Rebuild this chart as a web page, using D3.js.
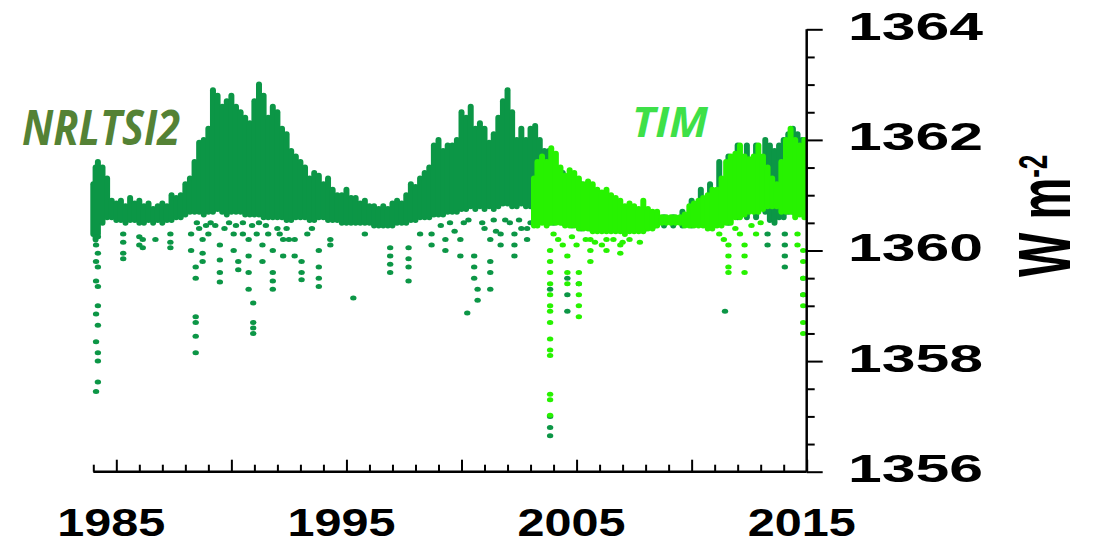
<!DOCTYPE html>
<html>
<head>
<meta charset="utf-8">
<script src="https://cdn.jsdelivr.net/npm/d3@7"></script>
<style>
  body { margin: 0; background: #fff; }
  svg { display: block; }
</style>
</head>
<body>
<svg id="chart" width="1094" height="545"></svg>
<script>
// NRLTSI2 daily spread: year, top of cloud, bottom of cloud
const nrlYear = [1984.0,1984.1,1984.2,1984.4,1984.6,1984.8,1985.0,1985.2,1985.4,1985.6,1985.8,1986.0,1986.2,1986.4,1986.6,1986.8,1987.0,1987.2,1987.4,1987.6,1987.8,1988.0,1988.2,1988.4,1988.6,1988.8,1989.0,1989.2,1989.4,1989.6,1989.8,1990.0,1990.2,1990.4,1990.6,1990.8,1991.0,1991.2,1991.4,1991.6,1991.8,1992.0,1992.2,1992.4,1992.6,1992.8,1993.0,1993.2,1993.4,1993.6,1993.8,1994.0,1994.2,1994.4,1994.6,1994.8,1995.0,1995.2,1995.4,1995.6,1995.8,1996.0,1996.2,1996.4,1996.6,1996.8,1997.0,1997.2,1997.4,1997.6,1997.8,1998.0,1998.2,1998.4,1998.6,1998.8,1999.0,1999.2,1999.4,1999.6,1999.8,2000.0,2000.2,2000.4,2000.6,2000.8,2001.0,2001.2,2001.4,2001.6,2001.8,2002.0,2002.2,2002.4,2002.6,2002.8,2003.0,2003.2,2003.4,2003.6,2003.8,2004.0,2004.4,2004.8,2005.2,2005.6,2006.0,2006.4,2006.8,2007.2,2007.6,2008.0,2008.4,2008.8,2009.2,2009.6,2010.0,2010.4,2010.8,2011.2,2011.6,2012.0,2012.4,2012.8,2013.2,2013.4,2013.6,2013.8,2014.0,2014.2,2014.4,2014.6,2014.8];
const nrlHigh = [1361.2,1361.5,1361.6,1361.5,1361.3,1360.9,1360.85,1360.9,1360.8,1360.95,1360.85,1360.9,1360.8,1360.85,1360.75,1360.8,1360.85,1360.8,1361.0,1360.95,1361.0,1361.2,1361.3,1361.6,1361.95,1362.0,1362.2,1362.9,1362.8,1362.6,1362.7,1362.8,1362.6,1362.5,1362.4,1362.3,1362.7,1363.0,1362.8,1362.4,1362.6,1362.5,1362.2,1362.1,1361.8,1361.7,1361.6,1361.5,1361.3,1361.4,1361.35,1361.2,1361.3,1361.1,1361.0,1361.0,1361.1,1360.95,1360.95,1360.85,1360.9,1360.8,1360.8,1360.75,1360.8,1360.75,1360.85,1360.9,1360.85,1361.0,1361.2,1361.15,1361.3,1361.4,1361.5,1361.9,1362.0,1361.8,1361.9,1361.9,1362.0,1362.5,1362.4,1362.6,1362.2,1362.3,1362.2,1361.95,1362.1,1362.4,1362.7,1362.9,1362.5,1362.0,1362.2,1362.0,1362.2,1362.25,1362.0,1361.8,1361.8,1361.6,1361.4,1361.3,1361.2,1361.1,1361.0,1360.9,1360.85,1360.75,1360.7,1360.65,1360.6,1360.6,1360.6,1360.7,1360.9,1361.1,1361.2,1361.6,1361.7,1361.9,1361.9,1361.9,1362.0,1361.9,1361.8,1361.9,1362.0,1362.1,1362.2,1362.1,1362.0];
const nrlLow = [1360.3,1360.2,1360.3,1360.5,1360.6,1360.6,1360.55,1360.55,1360.5,1360.55,1360.55,1360.5,1360.5,1360.55,1360.5,1360.55,1360.5,1360.55,1360.55,1360.6,1360.6,1360.65,1360.7,1360.7,
  1360.7,1360.65,1360.7,1360.7,1360.75,1360.7,1360.65,1360.7,1360.7,1360.7,1360.65,1360.65,1360.65,1360.65,1360.6,1360.6,1360.6,1360.6,1360.6,1360.55,1360.55,
  1360.6,1360.6,1360.6,1360.55,1360.55,1360.6,1360.6,1360.55,1360.55,1360.55,1360.5,1360.5,1360.5,1360.5,1360.5,1360.5,1360.5,1360.45,1360.45,1360.45,1360.45,1360.45,1360.5,1360.5,1360.5,1360.55,1360.55,1360.6,1360.6,1360.6,1360.65,
  1360.65,1360.65,1360.7,1360.7,1360.7,1360.75,1360.75,1360.8,1360.75,1360.8,1360.75,1360.8,1360.75,1360.8,1360.85,1360.85,1360.8,1360.8,1360.85,1360.8,1360.8,
  1360.8,1360.7,1360.6,1360.5,1360.5,1360.5,1360.45,1360.4,1360.4,1360.4,1360.4,1360.4,1360.4,1360.4,1360.4,1360.45,1360.45,1360.45,1360.45,1360.45,1360.5,1360.5,1360.5,1360.5,1360.6,1360.6,1360.6,1360.7,1360.55,1360.5,1360.6,1360.6,1360.7,1360.7,1360.7,1360.7];

// TIM daily spread
const timYear = [2003.15,2003.3,2003.5,2003.7,2003.9,2004.1,2004.3,2004.5,2004.7,2004.9,2005.1,2005.3,2005.5,2005.7,2005.9,2006.1,2006.3,2006.5,2006.7,2006.9,2007.1,2007.3,2007.5,2007.7,2007.9,2008.1,2008.3,2008.5,2008.7,2008.9,2009.1,2009.3,2009.5,2009.7,2009.9,2010.1,2010.3,2010.5,2010.7,2010.9,2011.1,2011.3,2011.5,2011.7,2011.9,2012.1,2012.3,2012.5,2012.7,2012.9,2013.1,2013.3,2013.5,2013.7,2013.9,2014.1,2014.3,2014.5,2014.7,2014.9];
const timHigh = [1361.3,1361.6,1361.7,1361.6,1361.85,1361.75,1361.5,1361.35,1361.45,1361.4,1361.3,1361.2,1361.25,1361.2,1361.1,1361.05,1361.1,1361.0,1360.95,1360.9,1360.8,1360.85,1360.8,1360.75,1360.9,1360.75,1360.7,1360.7,1360.6,1360.6,1360.6,1360.6,1360.6,1360.65,1360.8,1360.85,1360.9,1360.95,1361.0,1361.1,1361.1,1361.3,1361.6,1361.7,1361.75,1361.9,1361.7,1361.65,1361.7,1361.9,1361.7,1361.5,1361.3,1361.2,1361.6,1362.0,1362.2,1362.0,1361.9,1362.0];
const timLow = [1360.45,1360.45,1360.5,1360.45,1360.5,1360.5,1360.5,1360.45,1360.45,1360.45,1360.4,1360.4,1360.4,1360.35,1360.35,1360.35,1360.35,1360.35,1360.35,1360.35,1360.3,1360.35,1360.35,1360.35,1360.35,1360.4,1360.4,1360.45,1360.5,1360.5,1360.5,1360.5,1360.5,1360.45,1360.45,1360.45,1360.45,1360.45,1360.4,1360.4,1360.45,1360.45,1360.5,1360.5,1360.6,1360.6,1360.65,1360.7,1360.7,1360.7,1360.75,1360.8,1360.8,1360.8,1360.7,1360.7,1360.7,1360.6,1360.65,1360.6];

// single days that fall below the main cloud: [year, W m-2]
const nrlDips = [
  [1984.12,1360.1],[1984.12,1359.8],[1984.12,1359.45],[1984.12,1358.85],[1984.12,1358.35],[1984.12,1357.45],
  [1984.2,1360.25],[1984.2,1359.95],[1984.2,1359.7],[1984.2,1359.35],[1984.2,1359.0],[1984.2,1358.65],[1984.2,1358.15],[1984.2,1358.0],[1984.2,1357.62],
  [1985.3,1360.3],[1985.3,1360.15],[1985.3,1359.95],[1985.3,1359.85],
  [1986.0,1360.25],[1986.0,1360.1],[1986.15,1360.05],[1986.15,1360.2],[1986.7,1360.2],
  [1987.35,1360.3],[1987.35,1360.15],[1987.35,1360.05],
  [1988.25,1360.3],[1988.25,1360.0],
  [1988.45,1359.7],[1988.45,1359.5],[1988.45,1358.8],[1988.45,1358.7],[1988.45,1358.45],[1988.45,1358.15],
  [1988.75,1360.2],[1988.75,1359.95],[1988.75,1359.8],
  [1988.5,1360.5],[1988.6,1360.4],[1988.9,1360.45],[1989.0,1360.3],[1989.1,1360.5],[1989.3,1360.45],
  [1989.7,1360.4],[1989.9,1360.5],[1990.2,1360.45],[1990.5,1360.5],[1990.5,1360.3],[1990.9,1360.45],
  [1991.1,1360.3],[1991.2,1360.5],[1991.5,1360.45],[1991.6,1360.3],[1992.0,1360.4],[1992.1,1360.3],
  [1992.4,1360.4],[1992.5,1360.2],[1993.3,1360.3],[1993.5,1360.4],
  [1989.5,1360.1],[1989.5,1359.83],[1989.5,1359.6],[1989.5,1359.43],
  [1990.1,1360.3],[1990.1,1360.0],[1990.3,1359.8],[1990.3,1359.65],
  [1990.75,1360.2],[1990.75,1359.9],[1990.75,1359.6],[1990.75,1359.3],
  [1990.95,1359.05],[1990.95,1358.7],[1990.95,1358.6],[1990.95,1358.5],
  [1991.35,1360.1],[1991.35,1359.8],
  [1991.8,1360.0],[1991.8,1359.6],[1991.8,1359.45],[1991.8,1359.3],
  [1992.25,1360.2],[1992.25,1359.9],[1992.75,1360.2],[1992.75,1359.9],
  [1993.05,1359.8],[1993.05,1359.6],[1993.05,1359.47],
  [1993.8,1360.0],[1993.8,1359.7],[1993.8,1359.5],[1993.8,1359.35],
  [1994.3,1360.2],[1994.3,1360.1],[1995.3,1359.14],[1995.8,1360.3],
  [1996.9,1360.05],[1996.9,1359.9],[1996.9,1359.75],[1996.9,1359.6],
  [1997.7,1360.05],[1997.7,1359.85],[1997.7,1359.7],[1997.7,1359.45],
  [1998.2,1360.3],[1998.7,1360.3],[1998.7,1360.1],
  [1999.1,1360.45],[1999.5,1360.5],[1999.7,1360.35],[2000.1,1360.5],[2000.3,1360.55],[2000.9,1360.5],
  [2001.0,1360.4],[2001.4,1360.55],[2001.5,1360.35],[2001.9,1360.55],[2002.1,1360.5],[2002.5,1360.55],
  [2002.6,1360.4],[2003.0,1360.5],
  [1999.3,1360.2],[1999.3,1360.0],[1999.95,1360.2],[1999.95,1359.9],
  [2000.25,1358.87],
  [2000.55,1359.9],[2000.55,1359.7],[2000.55,1359.5],[2000.7,1359.3],[2000.7,1359.1],
  [2001.25,1360.2],[2001.25,1359.8],[2001.25,1359.6],[2001.25,1359.3],
  [2001.7,1360.3],[2001.7,1360.1],
  [2002.3,1360.3],[2002.3,1360.1],[2002.3,1359.9],[2002.85,1360.4],[2002.85,1360.2],
  [2003.85,1359.3],[2003.85,1357.0],[2003.85,1356.8],[2003.85,1356.65],
  [2004.6,1359.5],[2004.6,1359.2],[2004.6,1358.9],[2005.1,1359.4],
  [2011.45,1358.9],[2013.3,1360.3],[2013.3,1360.1],
  [2014.05,1360.3],[2014.05,1360.1],[2014.05,1359.9],[2014.05,1359.7],
  [2014.85,1359.5],[2014.85,1359.2]
];
const timDips = [
  [2003.85,1360.0],[2003.85,1359.8],[2003.85,1359.6],[2003.85,1359.4],[2003.85,1359.2],[2003.85,1359.0],[2003.85,1358.9],
  [2003.85,1358.7],[2003.85,1358.4],[2003.85,1358.2],[2003.85,1358.1],[2003.85,1357.4],[2003.85,1357.3],[2003.85,1357.02],
  [2004.0,1360.3],[2004.2,1360.2],[2004.4,1360.1],[2004.8,1360.25],[2005.0,1360.1],[2005.4,1360.2],
  [2005.8,1360.15],[2006.1,1360.1],[2006.6,1360.2],[2007.0,1360.15],[2007.3,1360.2],
  [2004.6,1359.9],[2004.6,1359.6],[2004.6,1359.4],
  [2005.1,1359.6],[2005.1,1359.4],[2005.1,1359.2],[2005.1,1359.0],[2005.1,1358.8],
  [2005.6,1360.2],[2005.6,1360.0],[2005.6,1359.8],
  [2006.3,1360.2],[2006.3,1360.0],[2006.9,1360.1],[2006.9,1359.95],[2007.75,1360.15],
  [2011.2,1360.3],[2011.4,1360.2],[2011.9,1360.4],[2012.1,1360.3],[2012.6,1360.45],[2012.8,1360.3],[2013.0,1360.5],
  [2011.6,1360.1],[2011.6,1359.9],[2011.6,1359.7],[2011.6,1359.6],
  [2012.3,1360.1],[2012.3,1359.9],[2012.3,1359.6],
  [2014.6,1360.3],[2014.6,1360.1],
  [2014.85,1360.0],[2014.85,1359.8],[2014.85,1359.5],[2014.85,1359.2],[2014.85,1359.0],[2014.85,1358.7],[2014.85,1358.5]
];

const yearLabels = [1985, 1995, 2005, 2015];
const valueLabels = [1356, 1358, 1360, 1362, 1364];

const nrlColor = "#0c9646";
const timColor = "#27f200";

const svg = d3.select("#chart");

const x = d3.scaleLinear().domain([1984, 2015]).range([93.3, 806.7]);
const y = d3.scaleLinear().domain([1356, 1364]).range([471.7, 29.3]);

function drawCloud(years, hi, lo, color) {
	svg.append("g")
	   .attr("stroke", color)
	   .attr("stroke-width", 6)
	   .attr("stroke-linecap", "round")
	   .selectAll("line")
	   .data(years)
	   .join("line")
	   .attr("x1", d => x(d))
	   .attr("x2", d => x(d))
	   .attr("y1", (d, i) => y(hi[i]))
	   .attr("y2", (d, i) => y(lo[i]));
}

function drawDips(dips, color) {
	svg.append("g")
	   .attr("fill", color)
	   .selectAll("ellipse")
	   .data(dips)
	   .join("ellipse")
	   .attr("cx", d => x(d[0]))
	   .attr("cy", d => y(d[1]))
	   .attr("rx", 3.2)
	   .attr("ry", 2.5);
}

drawCloud(nrlYear, nrlHigh, nrlLow, nrlColor);
drawDips(nrlDips, nrlColor);
drawCloud(timYear, timHigh, timLow, timColor);
drawDips(timDips, timColor);

// bottom axis, ticks pointing up into the plot
const minorYears = d3.range(1984, 2016);
svg.append("g")
   .attr("transform", `translate(0,${y(1356)})`)
   .call(d3.axisBottom(x).tickValues(minorYears.filter(d => d % 5 !== 0)).tickSize(-7).tickFormat(""))
   .call(g => g.select(".domain").remove());
svg.append("g")
   .attr("transform", `translate(0,${y(1356)})`)
   .call(d3.axisBottom(x).tickValues(minorYears.filter(d => d % 5 === 0)).tickSize(-12).tickFormat(""))
   .call(g => g.select(".domain").remove());
svg.selectAll(".tick line").attr("stroke", "#000").attr("stroke-width", 2);
svg.append("line")
   .attr("x1", x(1984)).attr("x2", x(2015))
   .attr("y1", y(1356)).attr("y2", y(1356))
   .attr("stroke", "#000").attr("stroke-width", 2.5);

// right axis, ticks pointing out
const yTicks = d3.range(1356, 1364.01, 0.5);
const yAxisG = svg.append("g")
   .attr("transform", `translate(${x(2015)},0)`)
   .call(d3.axisRight(y).tickValues(yTicks).tickSize(8).tickFormat(""));
yAxisG.select(".domain").remove();
yAxisG.selectAll(".tick line")
   .attr("stroke", "#000").attr("stroke-width", 2)
   .attr("x2", d => d % 2 === 0 ? 16 : 8);
svg.append("line")
   .attr("x1", x(2015)).attr("x2", x(2015))
   .attr("y1", y(1364)).attr("y2", y(1356))
   .attr("stroke", "#000").attr("stroke-width", 2.5);

// tick labels (wide bold face like the original)
svg.append("g")
   .attr("font-family", "Liberation Sans, Arial, sans-serif")
   .attr("font-weight", "bold")
   .attr("font-size", 38)
   .attr("text-anchor", "middle")
   .selectAll("text")
   .data(yearLabels)
   .join("text")
   .attr("x", d => x(d) - 5)
   .attr("y", 536)
   .attr("textLength", 108)
   .attr("lengthAdjust", "spacingAndGlyphs")
   .text(d => d);

svg.append("g")
   .attr("font-family", "Liberation Sans, Arial, sans-serif")
   .attr("font-weight", "bold")
   .attr("font-size", 38)
   .selectAll("text")
   .data(valueLabels)
   .join("text")
   .attr("x", 848)
   .attr("y", d => y(d) + 10.5)
   .attr("textLength", 135)
   .attr("lengthAdjust", "spacingAndGlyphs")
   .text(d => d);

// unit label
const unit = svg.append("text")
   .attr("transform", "translate(1070,277) rotate(-90) scale(1,1.56)")
   .attr("font-family", "Liberation Sans, Arial, sans-serif")
   .attr("font-weight", "bold")
   .attr("font-size", 47);
unit.append("tspan").text("W m");
unit.append("tspan").attr("font-size", 26).attr("dy", -15).text("-2");

// series names
svg.append("text")
   .attr("x", 22).attr("y", 145)
   .attr("font-family", "Open Sans, sans-serif")
   .attr("font-style", "italic").attr("font-weight", "bold")
   .attr("font-size", 48)
   .attr("fill", "#548235")
   .attr("textLength", 158).attr("lengthAdjust", "spacingAndGlyphs")
   .text("NRLTSI2");

svg.append("text")
   .attr("x", 632).attr("y", 137)
   .attr("font-family", "Open Sans, sans-serif")
   .attr("font-style", "italic").attr("font-weight", "bold")
   .attr("font-size", 41)
   .attr("fill", "#3ee048")
   .attr("textLength", 76).attr("lengthAdjust", "spacingAndGlyphs")
   .text("TIM");
</script>
</body>
</html>
